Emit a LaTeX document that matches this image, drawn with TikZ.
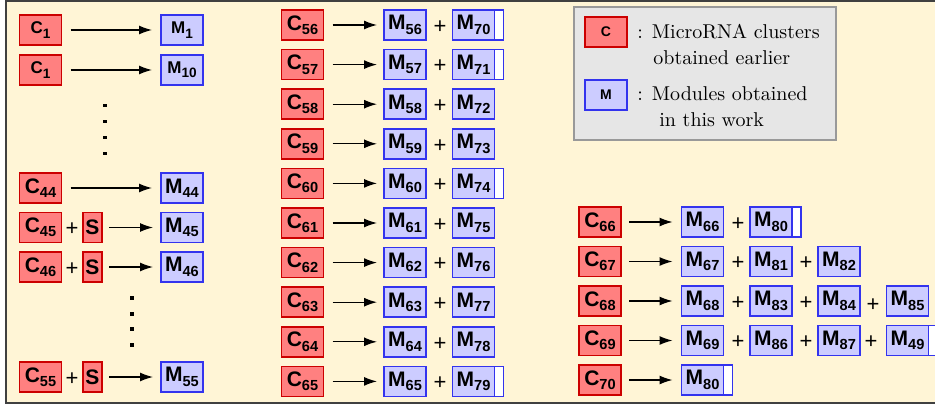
\documentclass[tikz,border=0pt]{standalone}
\usepackage{fontspec}
\newfontfamily\arialfont{Liberation Sans}
\usetikzlibrary{arrows.meta,positioning}

\definecolor{bgcream}{HTML}{FFF5D6}
\definecolor{framegray}{HTML}{404040}
\definecolor{clusterfill}{HTML}{FF8080}
\definecolor{clusterline}{HTML}{CC0000}
\definecolor{modulefill}{HTML}{CCCCFF}
\definecolor{moduleline}{HTML}{3333EE}
\definecolor{legendfill}{HTML}{E6E6E6}
\definecolor{legendline}{HTML}{999999}

% label with subscript, e.g. C_56 (subscript size set by the style)
\def\subsz{7.3}
\newcommand{\lbl}[2]{#1\raisebox{-2.2pt}{\fontsize{\subsz}{\subsz}\selectfont #2}}

\tikzset{
  box/.style={minimum width=21pt, minimum height=15pt, inner sep=0pt, outer sep=0pt, line width=0.75pt,
    font=\arialfont\bfseries\fontsize{10.5}{12}\selectfont\def\subsz{7.3}},
  cluster/.style={box, draw=clusterline, fill=clusterfill},
  module/.style={box, draw=moduleline, fill=modulefill},
  sbox/.style={cluster, minimum width=9.5pt},
  strip/.style={box, draw=moduleline, fill=white, minimum width=4.5pt},
  plus/.style={inner sep=0pt, font=\arialfont\fontsize{11}{12}\selectfont},
  smalllbl/.style={font=\arialfont\bfseries\fontsize{8.5}{10}\selectfont\def\subsz{6.8}},
  leglbl/.style={font=\arialfont\bfseries\fontsize{7}{8}\selectfont},
  legtext/.style={inner sep=0pt, align=left, font=\fontsize{10}{13}\selectfont},
  arr/.style={-{Latex[length=6.5pt,width=4.5pt]}, line width=0.65pt},
}

\begin{document}
\begin{tikzpicture}[x=0.5pt,y=-0.5pt]
  \useasboundingbox (0,0) rectangle (935,406);

  % Background panel
  \draw[framegray, fill=bgcream, line width=1pt] (6,1) rectangle (950,403);

  % Left column: first two rows
  \node[cluster, smalllbl] (c1) at (40.5,30) {\lbl{C}{1}};
  \node[module, smalllbl] (m1) at (182,30) {\lbl{M}{1}};
  \draw[arr] ([xshift=4.5pt]c1.east) -- ([xshift=-4.5pt]m1.west);

  \node[cluster, smalllbl] (c1b) at (40.5,70) {\lbl{C}{1}};
  \node[module, smalllbl] (m10) at (182,70) {\lbl{M}{10}};
  \draw[arr] ([xshift=4.5pt]c1b.east) -- ([xshift=-4.5pt]m10.west);

  % Vertical dots
  \foreach \y in {104,120,136,152}
    \fill (103.25,\y) rectangle ++(3.5,3.5);

  % Row C44
  \node[cluster] (c44) at (40.5,188) {\lbl{C}{44}};
  \node[module] (m44) at (182,188) {\lbl{M}{44}};
  \draw[arr] ([xshift=4.5pt]c44.east) -- ([xshift=-4.5pt]m44.west);

  % Rows with an extra S box
  \foreach \n/\y in {45/227.5,46/267,55/377}{
    \node[cluster] (c\n) at (40.5,\y) {\lbl{C}{\n}};
    \node[plus] (pl\n) at (72,\y+2) {+};
    \node[sbox] (s\n) at (92.5,\y) {S};
    \node[module] (m\n) at (182,\y) {\lbl{M}{\n}};
    \draw[arr] ([xshift=3.5pt]s\n.east) -- ([xshift=-4pt]m\n.west);
  }

  % Vertical dots
  \foreach \y in {296,312,327,343}
    \fill (130.25,\y) rectangle ++(3.5,3.5);

  % Middle column: C56 ... C65
  \foreach \k in {0,...,9}{
    \pgfmathtruncatemacro{\n}{56+\k}
    \pgfmathtruncatemacro{\m}{70+\k}
    \pgfmathsetmacro{\y}{25+39.6*\k}
    \node[cluster] (c\n) at (302.5,\y) {\lbl{C}{\n}};
    \node[module] (m\n) at (405,\y) {\lbl{M}{\n}};
    \node[plus] (pl\n) at (440,\y+2) {+};
    \node[module] (m\m) at (473.5,\y) {\lbl{M}{\m}};
    \draw[arr] ([xshift=4.5pt]c\n.east) -- ([xshift=-3.5pt]m\n.west);
  }

  % White strips on some modules
  \foreach \m in {70,71,74,79}
    \node[strip, right=0pt of m\m] (t\m) {};

  % Right column: C66 ... C70
  \foreach \n/\y in {66/222,67/261.5,68/301,69/340.5,70/380}{
    \node[cluster] (c\n) at (600,\y) {\lbl{C}{\n}};
  }

  % C66
  \node[module] (r66) at (702.5,222) {\lbl{M}{66}};
  \node[plus] (q66a) at (738,224) {+};
  \node[module] (m80) at (771,222) {\lbl{M}{80}};
  \node[strip, right=0pt of m80] (t80) {};

  % C67
  \node[module] (r67) at (702.5,261.5) {\lbl{M}{67}};
  \node[plus] (q67a) at (738,263.5) {+};
  \node[module] (m81) at (771,261.5) {\lbl{M}{81}};
  \node[plus] (q67b) at (806,263.5) {+};
  \node[module] (m82) at (839,261.5) {\lbl{M}{82}};

  % C68
  \node[module] (r68) at (702.5,301) {\lbl{M}{68}};
  \node[plus] (q68a) at (738,303) {+};
  \node[module] (m83) at (771,301) {\lbl{M}{83}};
  \node[plus] (q68b) at (806,303) {+};
  \node[module] (m84) at (839,301) {\lbl{M}{84}};
  \node[plus] (q68c) at (873,305) {+};
  \node[module] (m85) at (907.5,301) {\lbl{M}{85}};

  % C69
  \node[module] (r69) at (702.5,340.5) {\lbl{M}{69}};
  \node[plus] (q69a) at (738,342.5) {+};
  \node[module] (m86) at (771,340.5) {\lbl{M}{86}};
  \node[plus] (q69b) at (806,342.5) {+};
  \node[module] (m87) at (839,340.5) {\lbl{M}{87}};
  \node[plus] (q69c) at (871,342.5) {+};
  \node[module] (m49) at (907.5,340.5) {\lbl{M}{49}};
  \node[strip, right=0pt of m49] (t49) {};

  % C70
  \node[module] (r70) at (702.5,380) {\lbl{M}{80}};
  \node[strip, right=0pt of r70] (t80b) {};

  % Arrows of the right column
  \foreach \n in {66,...,70}
    \draw[arr] ([xshift=4pt]c\n.east) -- ([xshift=-4.5pt]r\n.west);

  % Legend
  \draw[legendline, fill=legendfill, line width=0.6pt] (574,7) rectangle (836,140);
  \node[cluster, leglbl] (legc) at (606,32) {C};
  \node[module, leglbl] (legm) at (606,95) {M};
  \node[legtext, anchor=west] (legctext) at (637,44) {: MicroRNA clusters\\\hspace*{8pt}obtained earlier};
  \node[legtext, anchor=west] (legmtext) at (637,107) {: Modules obtained\\\hspace*{11pt}in this work};
\end{tikzpicture}
\end{document}
